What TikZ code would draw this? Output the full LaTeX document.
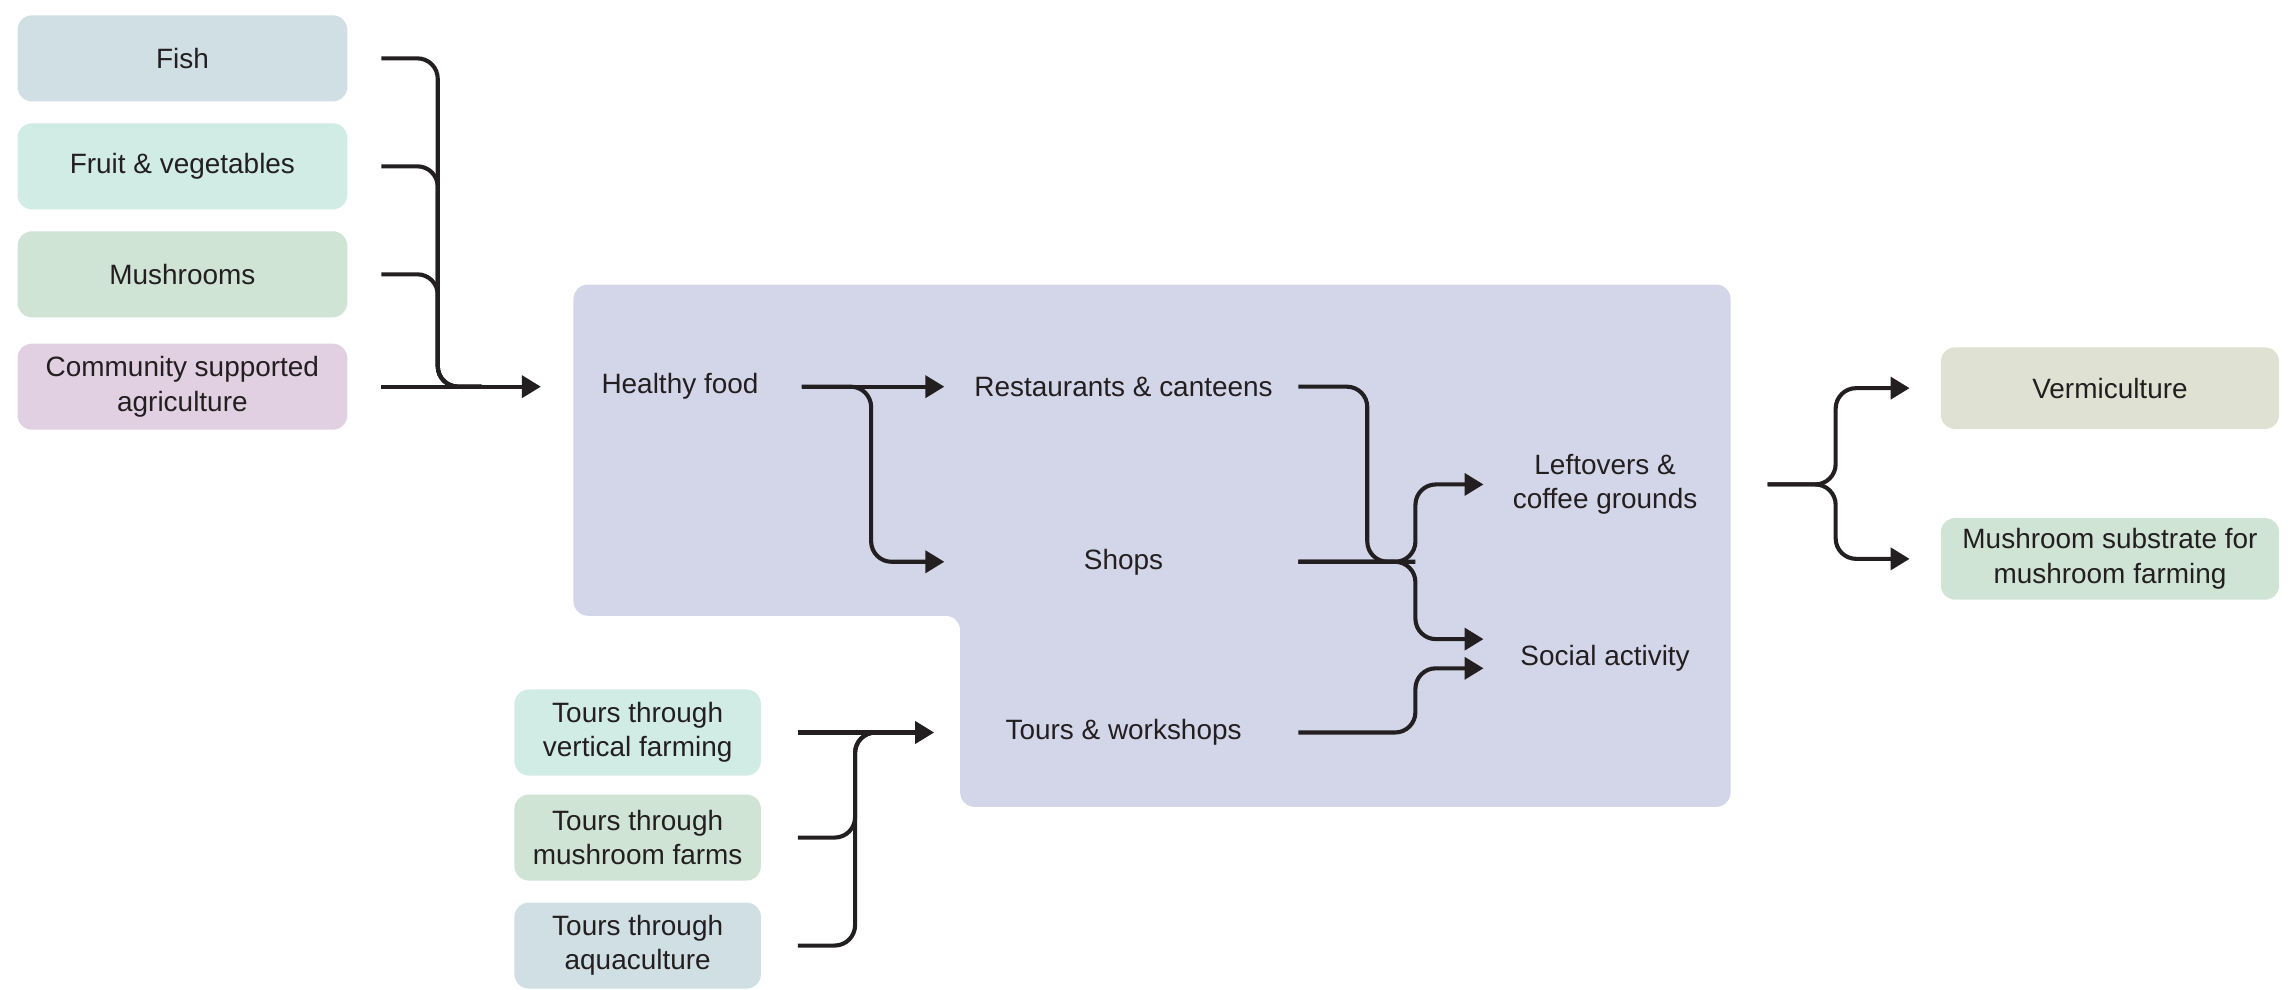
\documentclass[tikz,border=0pt]{standalone}
\usepackage{fontspec}
\setmainfont{Liberation Sans}
\usetikzlibrary{arrows.meta}

\definecolor{ink}{HTML}{231F20}
\definecolor{panelc}{HTML}{D3D6E9}
\definecolor{fishc}{HTML}{D0DFE3}
\definecolor{fruitc}{HTML}{D1EBE5}
\definecolor{mushc}{HTML}{CFE4D5}
\definecolor{csac}{HTML}{E1CFE2}
\definecolor{vermc}{HTML}{DFE2D3}

\begin{document}
\begin{tikzpicture}[x=0.02cm, y=-0.02cm,
    every node/.style={font=\fontsize{10.9}{13.4}\selectfont, text=ink, align=center, inner sep=0pt},
    box/.style={rounded corners=0.2cm, minimum width=4.52cm, minimum height=1.18cm},
    lbl/.style={minimum width=4.78cm},
    link/.style={draw=ink, line width=1.6pt, rounded corners=0.28cm},
    arr/.style={link, -{Triangle[length=0.26cm, width=0.3cm]}}]
    \useasboundingbox (0,0) rectangle (1568,678);

    % panel behind the middle part
    \fill[panelc, rounded corners=0.2cm] (393,195) -- (1186,195) -- (1186,553) -- (658,553)
        -- (658,422) -- (393,422) -- cycle;

    \node[box, fill=fishc] (fish) at (125,40) {Fish};
    \node[box, fill=fruitc] (fruit) at (125,114) {Fruit \& vegetables};
    \node[box, fill=mushc] (mush) at (125,188) {Mushrooms};
    \node[box, fill=csac] (csa) at (125,265) {Community supported\\agriculture};

    \node[minimum width=3.32cm] (food) at (466,265) {Healthy food};
    \node[lbl] (rest) at (770,265) {Restaurants \& canteens};
    \node[lbl] (shops) at (770,385) {Shops};
    \node[lbl] (tours) at (770,502) {Tours \& workshops};
    \node[minimum width=3.32cm] (leftover) at (1100,332) {Leftovers \&\\coffee grounds};
    \node[minimum width=3.32cm] (social) at (1100,451) {Social activity};

    \node[box, fill=vermc, minimum width=4.64cm, minimum height=1.12cm] (verm) at (1446,266) {Vermiculture};
    \node[box, fill=mushc, minimum width=4.64cm, minimum height=1.12cm] (substrate) at (1446,383) {Mushroom substrate for\\mushroom farming};

    \node[box, fill=fruitc, minimum width=3.38cm] (tvert) at (437,502) {Tours through\\vertical farming};
    \node[box, fill=mushc, minimum width=3.38cm] (tmush) at (437,574) {Tours through\\mushroom farms};
    \node[box, fill=fishc, minimum width=3.38cm] (taqua) at (437,648) {Tours through\\aquaculture};

    \coordinate (jl) at (300,265);
    \coordinate (jh) at (597,265);
    \coordinate (jr) at (970,385);
    \coordinate (jt) at (586,502);
    \coordinate (jo) at (1258,332);

    % food sources
    \foreach \src in {fish,fruit,mush}
        \draw[link] ([xshift=0.46cm]\src.east) -| (jl) -- ++(30,0);
    \draw[arr] ([xshift=0.46cm]csa.east) -- ([xshift=-0.24cm]food.west);

    \draw[arr] (food.east) -- ([xshift=-0.06cm]rest.west);
    \draw[arr] (food.east) -- (jh) |- ([xshift=-0.06cm]shops.west);

    % waste and social outputs
    \draw[link] (rest.east) -| ([xshift=-0.66cm]jr) -- (jr);
    \draw[arr] (shops.east) -- (jr) |- (leftover.west);
    \draw[arr] (shops.east) -- (jr) |- ([yshift=0.26cm]social.west);
    \draw[arr] (tours.east) -- (tours.east -| jr) |- ([yshift=-0.14cm]social.west);

    \draw[arr] ([xshift=0.56cm]leftover.east) -- (jo) |- ([xshift=-0.42cm]verm.west);
    \draw[arr] ([xshift=0.56cm]leftover.east) -- (jo) |- ([xshift=-0.42cm]substrate.west);

    % tours
    \draw[arr] ([xshift=0.5cm]tvert.east) -- ([xshift=-0.2cm]tours.west);
    \foreach \src in {tmush,taqua}
        \draw[link] ([xshift=0.5cm]\src.east) -| (jt) -- ++(20,0);
\end{tikzpicture}
\end{document}
